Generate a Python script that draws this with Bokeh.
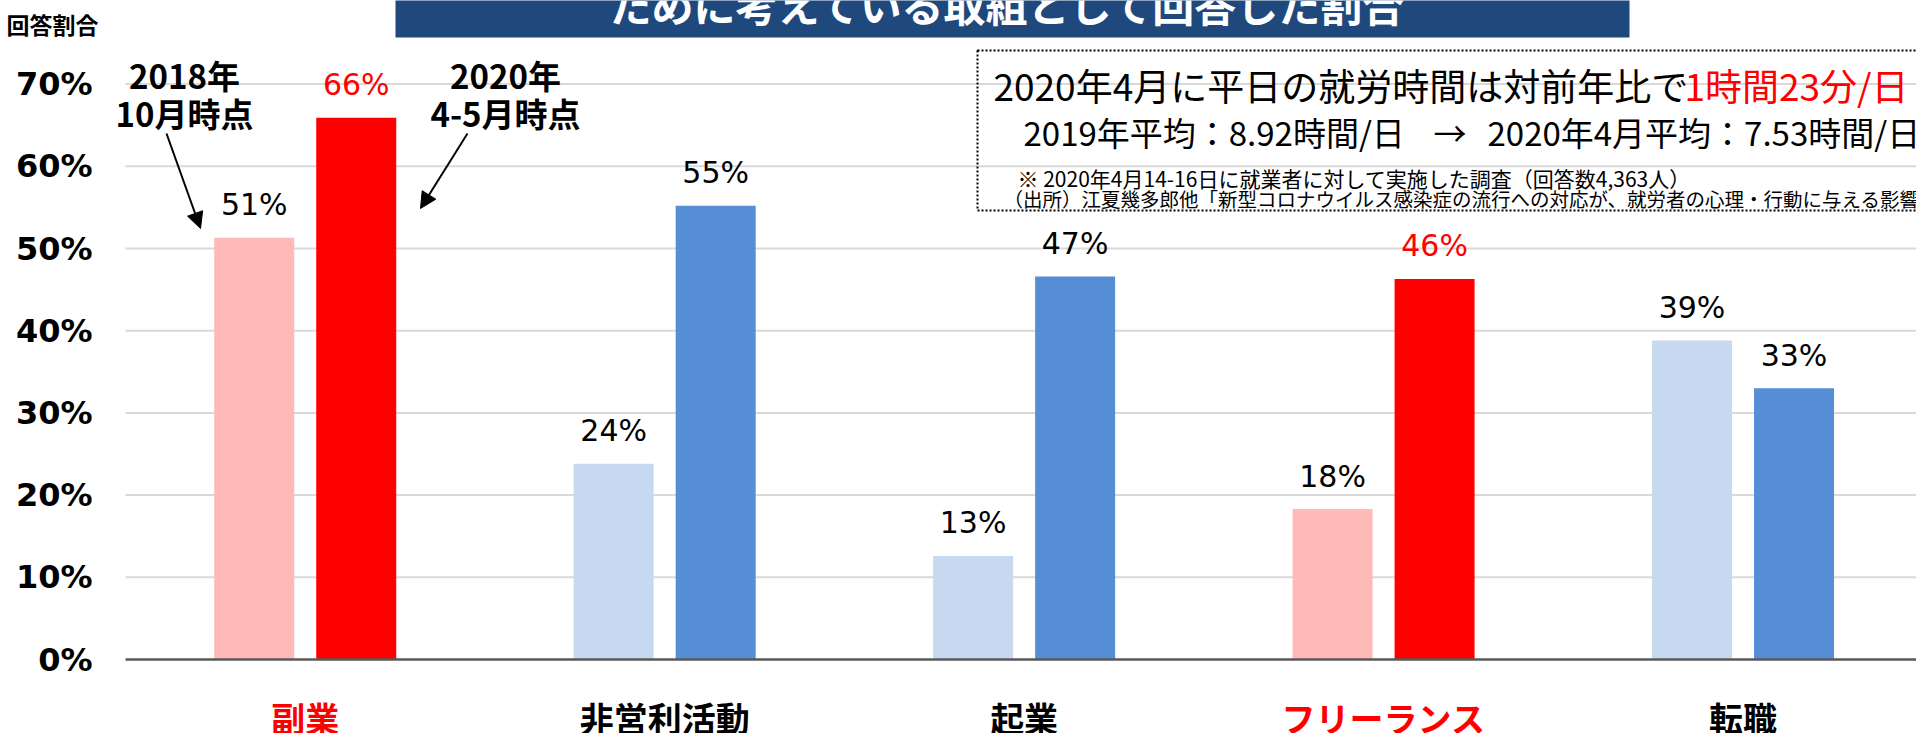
from bokeh.plotting import figure
from bokeh.models import Range1d, Arrow, NormalHead, ColumnDataSource
from bokeh.core.properties import value
from bokeh.embed import file_html
from bokeh.resources import INLINE

# ---- data ----
categories = ["副業", "非営利活動", "起業", "フリーランス", "転職"]
values_2018 = [51.3, 23.8, 12.6, 18.3, 38.8]
values_2020 = [65.9, 55.2, 46.6, 46.3, 33.0]
colors_2018 = ["#FFB9B9", "#C6D9F1", "#C6D9F1", "#FFB9B9", "#C6D9F1"]
colors_2020 = ["#FF0000", "#558ED5", "#558ED5", "#FF0000", "#558ED5"]
category_colors = ["#FF0000", "#000000", "#000000", "#FF0000", "#000000"]
y_ticks = [0, 10, 20, 30, 40, 50, 60, 70]
y_tick_labels = ["0%", "10%", "20%", "30%", "40%", "50%", "60%", "70%"]
title_text = "ために考えている取組として回答した割合"
y_axis_title = "回答割合"
series_2018_note = "2018年\n10月時点"
series_2020_note = "2020年\n4-5月時点"
note_line1 = "2020年4月に平日の就労時間は対前年比で"
note_line1_red = "1時間23分/日"
note_line2a = "2019年平均：8.92時間/日"
note_arrow = "→"
note_line2b = "2020年4月平均：7.53時間/日"
note_line3 = "※ 2020年4月14-16日に就業者に対して実施した調査（回答数4,363人）"
note_line4 = "（出所）江夏幾多郎他「新型コロナウイルス感染症の流行への対応が、就労者の心理・行動に与える影響」"

# ---- layout helpers (pixel -> data) ----
PLOT_LEFT = 125
CAT_PX = 359.45
ZERO_PX = 659
PX_PER_UNIT = 8.22
W, H = 1916, 733

def px_x(px):
    return (px - PLOT_LEFT) / CAT_PX

def px_y(py):
    return (ZERO_PX - py) / PX_PER_UNIT

centers = [i + 0.5 for i in range(len(categories))]
offset = 51 / CAT_PX
bar_w = 80 / CAT_PX
xs_2018 = [c - offset for c in centers]
xs_2020 = [c + offset for c in centers]
labels_2018 = [f"{round(v)}%" for v in values_2018]
labels_2020 = [f"{round(v)}%" for v in values_2020]
label_colors_2018 = ["#000000"] * len(categories)
label_colors_2020 = category_colors

p = figure(width=W, height=H,
           x_range=Range1d(px_x(0), px_x(W)), y_range=Range1d(px_y(H), px_y(0)),
           output_backend="svg", toolbar_location=None,
           x_axis_location=None, y_axis_location=None,
           min_border_left=0, min_border_right=0, min_border_top=0, min_border_bottom=0)
p.outline_line_color = None
p.background_fill_color = "white"
p.border_fill_color = "white"
p.grid.visible = False

# ---- value axis: gridlines and tick labels ----
grid_ticks = [t for t in y_ticks if t > 0]
p.segment(x0=[0] * len(grid_ticks), x1=[px_x(W)] * len(grid_ticks),
          y0=grid_ticks, y1=grid_ticks, line_color="#D9D9D9", line_width=2)
p.text(x=[px_x(92)] * len(y_ticks), y=y_ticks, text=y_tick_labels,
       text_align="right", text_baseline="middle", text_color="#000000",
       text_font=value("DejaVu Sans"), text_font_style="bold", text_font_size="32px")
p.text(x=[px_x(6)], y=[px_y(23)], text=[y_axis_title], text_align="left",
       text_baseline="middle", text_color="#000000",
       text_font=value("Noto Sans CJK JP"), text_font_style="bold", text_font_size="23px")

# ---- bars ----
src18 = ColumnDataSource(dict(x=xs_2018, top=values_2018, color=colors_2018,
                              label=labels_2018, lc=label_colors_2018))
src20 = ColumnDataSource(dict(x=xs_2020, top=values_2020, color=colors_2020,
                              label=labels_2020, lc=label_colors_2020))
for src in (src18, src20):
    p.vbar(x="x", top="top", bottom=0, width=bar_w, fill_color="color",
           line_color=None, source=src)
    p.text(x="x", y="top", text="label", y_offset=-33, text_color="lc",
           text_align="center", text_baseline="middle",
           text_font=value("DejaVu Sans"), text_font_size="30px", source=src)

# baseline (0%)
p.segment(x0=[0], x1=[px_x(W)], y0=[0], y1=[0], line_color="#595959", line_width=2.5)

# category labels
p.text(x=centers, y=[0] * len(categories), text=categories, y_offset=58,
       text_color=category_colors, text_align="center", text_baseline="middle",
       text_font=value("Noto Sans CJK JP"), text_font_style="bold", text_font_size="34px")

# ---- title banner (cut off at top) ----
p.quad(left=[px_x(395)], right=[px_x(1629)], bottom=[px_y(37)], top=[px_y(-20)],
       fill_color="#1F497D", line_color=None)
p.text(x=[px_x(1008)], y=[px_y(3)], text=[title_text], text_color="white",
       text_align="center", text_baseline="middle",
       text_font=value("Noto Sans CJK JP"), text_font_style="bold", text_font_size="42px")

# ---- series notes with arrows ----
for txt, cx in ((series_2018_note, 184), (series_2020_note, 505)):
    lines = txt.split("\n")
    p.text(x=[px_x(cx)] * 2, y=[px_y(74), px_y(112)], text=lines, text_color="black",
           text_align="center", text_baseline="middle",
           text_font=value("Noto Sans CJK JP"), text_font_style="bold", text_font_size="33px")

p.add_layout(Arrow(end=NormalHead(size=16, fill_color="black", line_color="black"),
                   x_start=px_x(166), y_start=px_y(133), x_end=px_x(200), y_end=px_y(228),
                   line_width=2, line_color="black"))
p.add_layout(Arrow(end=NormalHead(size=16, fill_color="black", line_color="black"),
                   x_start=px_x(467), y_start=px_y(133), x_end=px_x(420), y_end=px_y(208),
                   line_width=2, line_color="black"))

# ---- note box ----
p.quad(left=[px_x(977)], right=[px_x(1940)], top=[px_y(50)], bottom=[px_y(210)],
       fill_color=None, line_color="black", line_width=2, line_dash="2 2")

def note(x, y, t, size, color="black"):
    p.text(x=[px_x(x)], y=[px_y(y)], text=[t], text_color=color, text_align="left",
           text_baseline="middle", text_font=value("Noto Sans CJK JP"),
           text_font_size=size)

note(993, 84, note_line1, "37px")
note(1684, 84, note_line1_red, "37px", "#FF0000")
note(1023, 131, note_line2a, "33px")
note(1433, 131, note_arrow, "33px")
note(1487, 131, note_line2b, "33px")
note(1017, 177, note_line3, "21px")
note(1003, 198, note_line4, "19.5px")

open("out.html", "w").write(file_html(p, INLINE))
